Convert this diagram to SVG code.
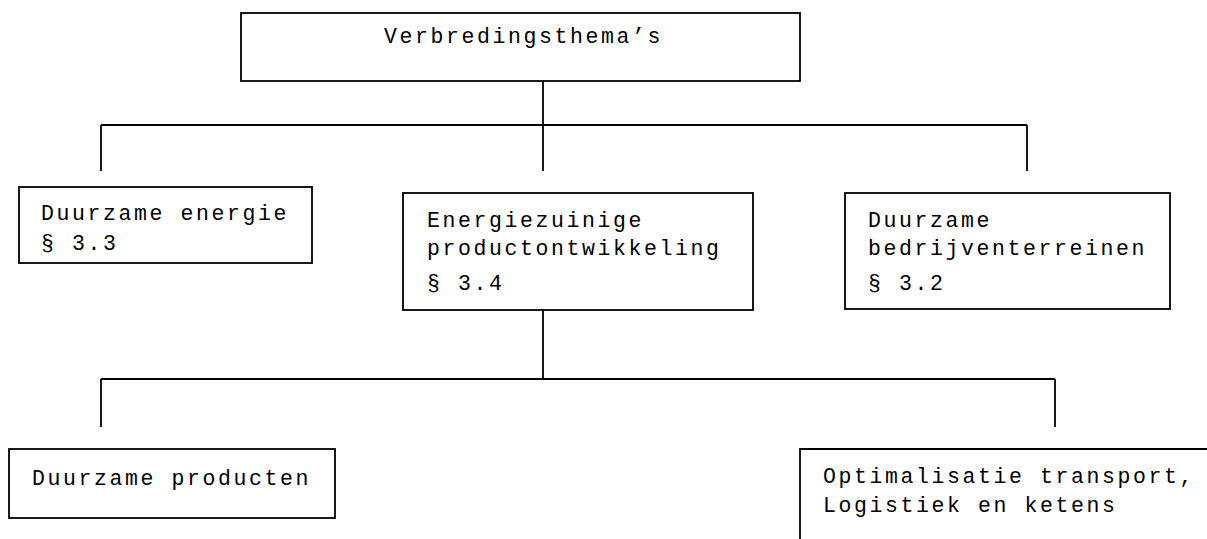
<svg xmlns="http://www.w3.org/2000/svg" width="1207" height="539" viewBox="0 0 1207 539">
<style>
  .box { fill: #ffffff; stroke: #000000; stroke-width: 1.8; }
  .conn { fill: none; stroke: #000000; stroke-width: 1.8; }
  text { font-family: "Liberation Mono", "Courier New", monospace; font-size: 21.5px; letter-spacing: 2.6px; fill: #000000; }
</style>
<rect width="1207" height="539" fill="#ffffff"/>
<g id="connectors">
  <path class="conn" d="M543 80 V125 M101 125 H1027 M101 125 V171 M543 125 V171 M1027 125 V171"/>
  <path class="conn" d="M543 310 V379 M101 379 H1055 M101 379 V427 M1055 379 V427"/>
</g>
<g id="n-top">
  <rect class="box" x="241" y="13" width="559" height="68"/>
  <text x="384" y="43">Verbredingsthema’s</text>
</g>
<g id="n-energie">
  <rect class="box" x="19" y="187" width="293" height="76"/>
  <text x="41" y="220">Duurzame energie</text>
  <text x="41" y="250">§ 3.3</text>
</g>
<g id="n-product">
  <rect class="box" x="403" y="193" width="350" height="117"/>
  <text x="427" y="227">Energiezuinige</text>
  <text x="427" y="255">productontwikkeling</text>
  <text x="427" y="290">§ 3.4</text>
</g>
<g id="n-bedrijf">
  <rect class="box" x="845" y="193" width="325" height="116"/>
  <text x="868" y="227">Duurzame</text>
  <text x="868" y="255">bedrijventerreinen</text>
  <text x="868" y="290">§ 3.2</text>
</g>
<g id="n-producten">
  <rect class="box" x="9" y="449" width="326" height="69"/>
  <text x="32" y="485">Duurzame producten</text>
</g>
<g id="n-transport">
  <path class="conn" d="M800 545 V449 H1215"/>
  <text x="823" y="483">Optimalisatie transport,</text>
  <text x="823" y="512">Logistiek en ketens</text>
</g>
</svg>
